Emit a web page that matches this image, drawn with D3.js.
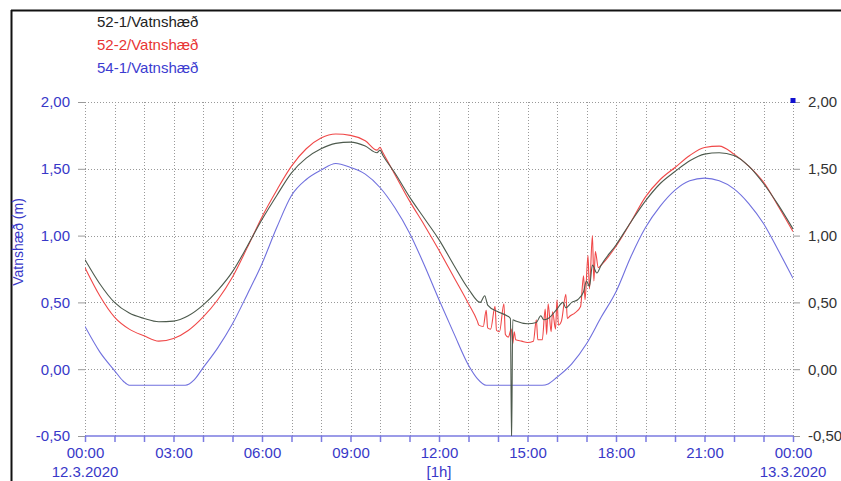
<!DOCTYPE html>
<html>
<head>
<meta charset="utf-8">
<script src="https://cdn.jsdelivr.net/npm/d3@7"></script>
<style>
  body { margin: 0; background: #fff; }
  svg { font-family: "Liberation Sans", Arial, sans-serif; }
</style>
</head>
<body>
<div id="chart"></div>
<script>
// series names
var seriesNames = ["52-1/Vatnshæð", "52-2/Vatnshæð", "54-1/Vatnshæð"];

// hours since 12.3.2020 00:00 and water level (m)
var hours521 = [0,0.5,1,1.5,2,2.5,3,3.5,4,4.5,5,5.5,6,6.5,7,7.5,8,8.5,9,9.5,9.9,10.0,10.1,10.5,11,11.5,12,12.5,13,13.4,13.55,13.65,14,14.3,14.42,14.46,14.5,14.6,15,15.3,15.45,15.55,15.7,16,16.2,16.3,16.5,16.7,16.9,17.0,17.1,17.2,17.35,17.5,18,18.5,19,19.5,20,20.5,21,21.5,22,22.5,23,23.5,24];
var level521 = [0.82,0.64,0.50,0.42,0.38,0.355,0.36,0.40,0.48,0.59,0.73,0.92,1.12,1.30,1.47,1.58,1.65,1.69,1.70,1.67,1.62,1.64,1.60,1.47,1.29,1.13,0.97,0.78,0.60,0.50,0.55,0.48,0.43,0.40,0.38,-0.55,0.37,0.36,0.34,0.35,0.40,0.37,0.38,0.45,0.50,0.46,0.50,0.52,0.58,0.66,0.62,0.78,0.72,0.78,0.93,1.10,1.26,1.39,1.48,1.56,1.61,1.62,1.60,1.52,1.39,1.23,1.05];

var hours522 = [0,0.5,1,1.5,2,2.5,3,3.5,4,4.5,5,5.5,6,6.5,7,7.5,8,8.5,9,9.5,9.9,10.0,10.1,10.5,11,11.5,12,12.5,13,13.3,13.35,13.5,13.6,13.65,13.75,13.9,13.95,14.05,14.2,14.25,14.35,14.45,14.5,14.55,14.6,14.8,15,15.2,15.3,15.35,15.5,15.6,15.65,15.7,15.8,15.85,15.95,16.0,16.05,16.15,16.3,16.35,16.45,16.6,16.8,16.9,16.95,17.05,17.1,17.2,17.25,17.3,17.4,17.5,18,18.5,19,19.5,20,20.5,21,21.5,22,22.5,23,23.5,24];
var level522 = [0.76,0.55,0.39,0.30,0.25,0.21,0.23,0.29,0.39,0.52,0.69,0.91,1.14,1.34,1.52,1.65,1.73,1.76,1.75,1.71,1.64,1.66,1.62,1.46,1.26,1.08,0.89,0.69,0.49,0.36,0.33,0.32,0.44,0.31,0.30,0.47,0.29,0.28,0.49,0.26,0.24,0.30,0.19,0.28,0.22,0.21,0.20,0.21,0.37,0.22,0.22,0.45,0.26,0.49,0.28,0.43,0.30,0.52,0.33,0.36,0.56,0.38,0.40,0.42,0.47,0.70,0.52,0.85,0.60,1.00,0.66,0.88,0.76,0.78,0.92,1.10,1.29,1.42,1.51,1.60,1.66,1.67,1.61,1.52,1.40,1.22,1.03];

var hours541 = [0,0.5,1,1.3,1.5,2,2.5,3,3.4,3.7,4,4.5,5,5.5,6,6.5,7,7.5,8,8.5,9,9.5,10,10.5,11,11.5,12,12.5,13,13.3,13.6,14,14.5,15,15.5,15.7,16,16.5,17,17.5,18,18.5,19,19.5,20,20.5,21,21.5,22,22.5,23,23.5,24];
var level541 = [0.32,0.13,-0.01,-0.09,-0.12,-0.12,-0.12,-0.12,-0.12,-0.08,0.01,0.16,0.34,0.56,0.79,1.06,1.30,1.42,1.49,1.54,1.51,1.46,1.36,1.21,1.02,0.78,0.52,0.27,0.03,-0.07,-0.12,-0.12,-0.12,-0.12,-0.12,-0.11,-0.06,0.04,0.19,0.39,0.58,0.84,1.06,1.22,1.34,1.41,1.43,1.41,1.35,1.24,1.09,0.89,0.68];

var xTickLabels = ["00:00","03:00","06:00","09:00","12:00","15:00","18:00","21:00","00:00"];
var yTicks = [-0.5, 0, 0.5, 1, 1.5, 2];

var colors = ["#4d5a4d", "#f04848", "#7070de"];
var legendColors = ["#222222", "#e83434", "#3b3bd0"];
var axisBlue = "#3838c8";

var width = 841, height = 481;
var svg = d3.select("#chart").append("svg")
  .attr("width", width)
  .attr("height", height);

// frame
svg.append("line").attr("x1", 11).attr("x2", width).attr("y1", 10.5).attr("y2", 10.5)
  .attr("stroke", "#111").attr("stroke-width", 2);
svg.append("line").attr("x1", 11.5).attr("x2", 11.5).attr("y1", 10).attr("y2", height)
  .attr("stroke", "#111").attr("stroke-width", 2);

var x = d3.scaleLinear().domain([0, 24]).range([85, 793]);
var y = d3.scaleLinear().domain([-0.5, 2]).range([436, 102]);

// grid
svg.append("g").selectAll("line")
  .data(d3.range(0, 25))
  .join("line")
  .attr("x1", d => Math.round(x(d)) + 0.5).attr("x2", d => Math.round(x(d)) + 0.5)
  .attr("y1", y(2)).attr("y2", y(-0.5))
  .attr("stroke", "#999").attr("stroke-dasharray", "1,2");
svg.append("g").selectAll("line")
  .data(yTicks.filter(d => d > -0.5))
  .join("line")
  .attr("x1", x(0)).attr("x2", x(24))
  .attr("y1", d => Math.round(y(d)) + 0.5).attr("y2", d => Math.round(y(d)) + 0.5)
  .attr("stroke", "#999").attr("stroke-dasharray", "1,2");

var fmt = d => d3.format(".2f")(d).replace(".", ",").replace("−", "-");

// left axis
var left = svg.append("g").attr("transform", "translate(" + x(0) + ",0)")
  .call(d3.axisLeft(y).tickValues(yTicks).tickSize(7).tickPadding(8).tickFormat(fmt));
left.select(".domain").remove();
left.selectAll(".tick line").attr("stroke", "#999");
left.selectAll(".tick text").attr("fill", axisBlue).style("font-size", "15px")
  .style("font-family", "Liberation Sans, Arial, sans-serif");

// right axis
var right = svg.append("g").attr("transform", "translate(" + x(24) + ",0)")
  .call(d3.axisRight(y).tickValues(yTicks).tickSize(7).tickPadding(8).tickFormat(fmt));
right.select(".domain").remove();
right.selectAll(".tick line").attr("stroke", "#999");
right.selectAll(".tick text").attr("fill", "#333").style("font-size", "15px")
  .style("font-family", "Liberation Sans, Arial, sans-serif");

// bottom axis
var bottom = svg.append("g").attr("transform", "translate(0," + y(-0.5) + ")")
  .call(d3.axisBottom(x).tickValues(d3.range(0, 25)).tickSize(6).tickPadding(5)
    .tickFormat(d => d % 3 === 0 ? xTickLabels[d / 3] : ""));
bottom.select(".domain").attr("stroke", "#7a7ae0").attr("stroke-width", 1.5).attr("d", "M" + x(0) + ",0H" + x(24));
bottom.selectAll(".tick line").attr("stroke", "#7a7ae0").attr("stroke-width", 1.5);
bottom.selectAll(".tick text").attr("fill", axisBlue).style("font-size", "15px")
  .style("font-family", "Liberation Sans, Arial, sans-serif");

// dates and interval under the axis
svg.append("text").attr("x", x(0)).attr("y", 477).attr("text-anchor", "middle")
  .attr("fill", axisBlue).style("font-size", "15px").text("12.3.2020");
svg.append("text").attr("x", x(24)).attr("y", 477).attr("text-anchor", "middle")
  .attr("fill", axisBlue).style("font-size", "15px").text("13.3.2020");
svg.append("text").attr("x", x(12)).attr("y", 477).attr("text-anchor", "middle")
  .attr("fill", axisBlue).style("font-size", "15px").text("[1h]");

// y axis title
svg.append("text")
  .attr("transform", "translate(23,242) rotate(-90)")
  .attr("text-anchor", "middle")
  .attr("fill", axisBlue).style("font-size", "14px")
  .text("Vatnshæð (m)");

// lines
svg.append("clipPath").attr("id", "plot")
  .append("rect").attr("x", x(0)).attr("y", y(2)).attr("width", x(24) - x(0)).attr("height", y(-0.5) - y(2));

var line = d3.line().curve(d3.curveMonotoneX).x(d => x(d[0])).y(d => y(d[1]));
var series = [
  d3.zip(hours541, level541),
  d3.zip(hours522, level522),
  d3.zip(hours521, level521)
];
var seriesColors = [colors[2], colors[1], colors[0]];
svg.append("g").attr("clip-path", "url(#plot)")
  .selectAll("path")
  .data(series)
  .join("path")
  .attr("d", line)
  .attr("fill", "none")
  .attr("stroke", (d, i) => seriesColors[i])
  .attr("stroke-width", 1.1);

// marker top right
svg.append("rect").attr("x", x(24) - 2.5).attr("y", y(2) - 4).attr("width", 5).attr("height", 5)
  .attr("fill", "#1010d0");

// legend
svg.append("g").selectAll("text")
  .data(seriesNames)
  .join("text")
  .attr("x", 97)
  .attr("y", (d, i) => 27 + i * 23)
  .attr("fill", (d, i) => legendColors[i])
  .style("font-size", "15px")
  .text(d => d);
</script>
</body>
</html>
